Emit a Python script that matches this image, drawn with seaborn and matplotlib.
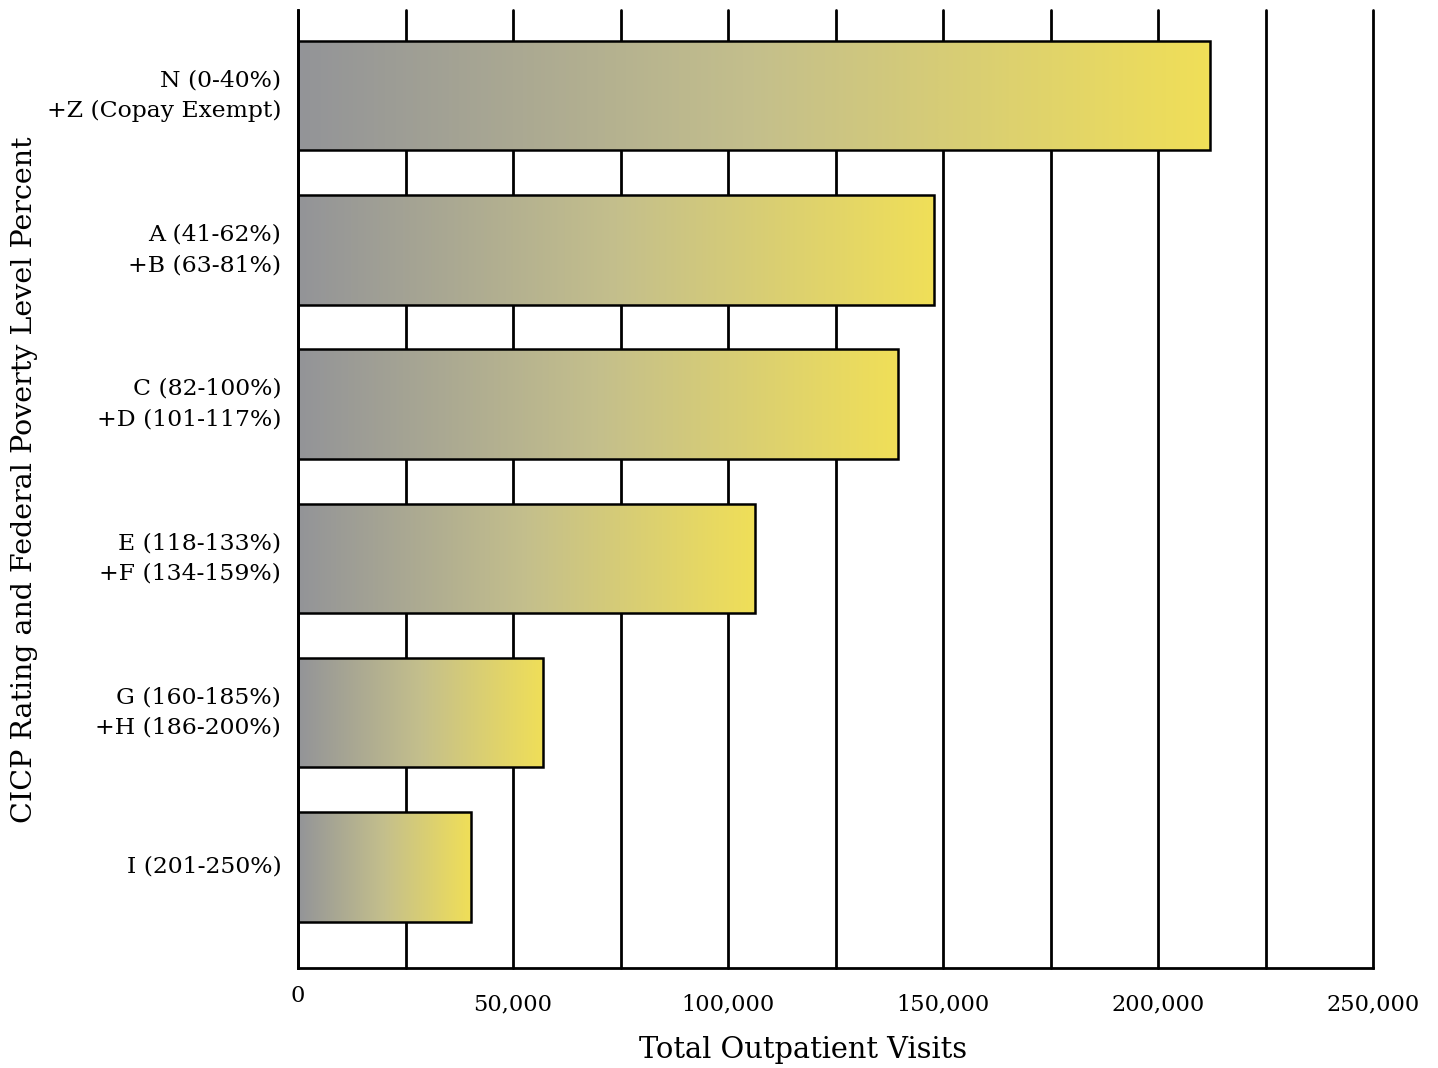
import numpy as np
import pandas as pd
import matplotlib
matplotlib.use("Agg")
import matplotlib.pyplot as plt
import seaborn as sns
from matplotlib.colors import LinearSegmentedColormap

categories = [
    "N (0-40%)\n+Z (Copay Exempt)",
    "A (41-62%)\n+B (63-81%)",
    "C (82-100%)\n+D (101-117%)",
    "E (118-133%)\n+F (134-159%)",
    "G (160-185%)\n+H (186-200%)",
    "I (201-250%)",
]
visits = [212000, 148000, 139500, 106300, 57000, 40200]
x_ticks = [0, 50000, 100000, 150000, 200000, 250000]
x_tick_labels = ["0", "50,000", "100,000", "150,000", "200,000", "250,000"]

sns.set_theme(style="white")
plt.rcParams["font.family"] = ["DejaVu Serif"]

df = pd.DataFrame({"cat": categories, "visits": visits})

fig = plt.figure(figsize=(14.38, 10.68), dpi=100)
ax = fig.add_axes([298 / 1438, 1 - 968 / 1068, (1373 - 298) / 1438, (968 - 10) / 1068])

sns.barplot(data=df, y="cat", x="visits", orient="h", ax=ax, width=0.71,
            color="white", edgecolor="black", linewidth=1.8, saturation=1)

cmap = LinearSegmentedColormap.from_list("gy", ["#939498", "#c4bf8c", "#f0df58"])
grad = np.linspace(0, 1, 256).reshape(1, -1)
for p in ax.patches:
    x0, y0 = p.get_x(), p.get_y()
    w, h = p.get_width(), p.get_height()
    p.set_facecolor("none")
    p.set_zorder(3)
    im = ax.imshow(grad, cmap=cmap, aspect="auto",
                   extent=(x0, x0 + w, y0 + h, y0), zorder=2, interpolation="bilinear")
    im.set_clip_path(p)

ax.set_xlim(0, 250000)
ax.set_ylim(5.655, -0.554)
ax.set_xticks(x_ticks)
ax.set_xticklabels(x_tick_labels)
ax.set_xticks(np.arange(0, 250001, 25000), minor=True)
ax.set_axisbelow(True)
ax.grid(True, axis="x", which="both", color="black", linewidth=2)
ax.grid(False, axis="y")
for t in ax.xaxis.get_major_ticks() + ax.xaxis.get_minor_ticks():
    t.gridline.set_clip_on(False)
for s in ["top", "right"]:
    ax.spines[s].set_visible(False)
for s in ["left", "bottom"]:
    ax.spines[s].set_color("black")
    ax.spines[s].set_linewidth(2)

ax.tick_params(axis="x", which="both", length=0, pad=18, labelsize=16.2, colors="black")
ax.tick_params(axis="y", length=0, pad=12, labelsize=16.9, colors="black")
ax.xaxis.get_major_ticks()[0].set_pad(12)
for lab in ax.get_yticklabels():
    lab.set_linespacing(1.5)
    lab.set_horizontalalignment("right")
    lab.set_verticalalignment("center")

ax.set_xlabel("Total Outpatient Visits", fontsize=20.8, color="black")
ax.xaxis.set_label_coords(0.47, -0.0856)
ax.xaxis.label.set_verticalalignment("center")
ax.set_ylabel("CICP Rating and Federal Poverty Level Percent", fontsize=20.5, color="black")
ax.yaxis.set_label_coords((25 - 298) / 1075, (968 - 480) / 958)
ax.yaxis.label.set_verticalalignment("center")

fig.savefig("out.png", dpi=100)
